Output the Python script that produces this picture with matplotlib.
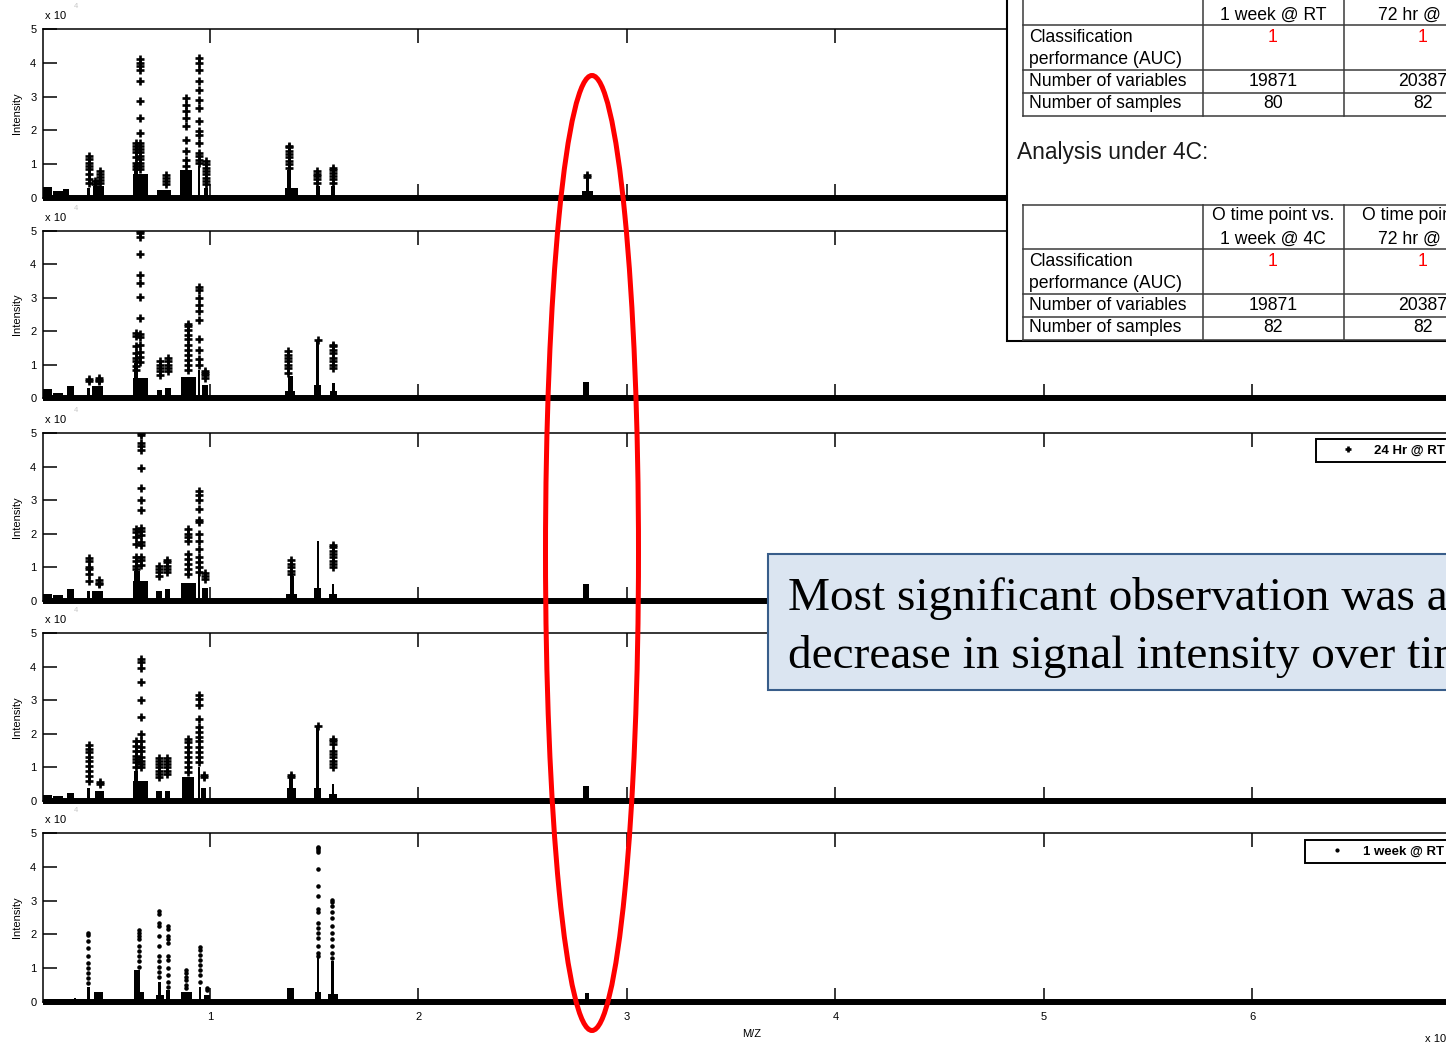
import matplotlib
matplotlib.use('Agg')
import matplotlib.pyplot as plt
from matplotlib.patches import Rectangle, Ellipse

plt.rcParams['font.family'] = ['Liberation Sans', 'DejaVu Sans']

# ---------------- data (m/z in units of 10^4, intensity in units of 10^4) ----------------
XMIN, XMAX = 0.2, 7.0
x_ticks = [1, 2, 3, 4, 5, 6]
y_ticks = [0, 1, 2, 3, 4, 5]
baseline_mz = [XMIN, XMAX]
baseline_int = [0, 0]

# panel 1
p1_body_mz = [0.22, 0.27, 0.31, 0.417, 0.465, 0.665, 0.645, 0.78, 0.885, 0.947, 0.98, 1.02, 1.29, 1.39, 1.38, 1.517, 1.588, 2.81, 2.81]
p1_body_w = [0.04, 0.05, 0.03, 0.015, 0.05, 0.07, 0.02, 0.07, 0.06, 0.008, 0.02, 0.04, 0.005, 0.06, 0.02, 0.02, 0.02, 0.05, 0.014]
p1_body_h = [0.32, 0.2, 0.28, 0.3, 0.35, 0.72, 1.0, 0.25, 0.84, 0.95, 0.3, 0.1, 0.06, 0.3, 0.84, 0.35, 0.35, 0.2, 0.55]
p1_col_mz = [0.417, 0.45, 0.47, 0.645, 0.664, 0.79, 0.885, 0.947, 0.982, 1.378, 1.515, 1.588, 2.81]
p1_col_int = [
    [1.23, 1.15, 1.05, 0.95, 0.85, 0.7, 0.55, 0.45],
    [0.5, 0.42],
    [0.8, 0.72, 0.62, 0.52, 0.45],
    [1.62, 1.55, 1.45, 1.35, 1.2, 1.05, 0.95, 0.85],
    [4.1, 4.0, 3.9, 3.8, 3.45, 2.88, 2.37, 1.92, 1.62, 1.55, 1.45, 1.35, 1.25, 1.15, 1.05, 0.95, 0.85],
    [0.69, 0.6, 0.5, 0.4],
    [2.96, 2.76, 2.56, 2.37, 2.12, 1.73, 1.38, 1.13, 0.94],
    [4.14, 4.0, 3.8, 3.45, 3.2, 2.9, 2.66, 2.27, 1.97, 1.87, 1.63, 1.33, 1.23, 1.13, 1.03],
    [1.08, 1.0, 0.9, 0.8, 0.7, 0.6, 0.5, 0.4],
    [1.55, 1.5, 1.4, 1.3, 1.2, 1.1, 1.0, 0.9],
    [0.79, 0.72, 0.65, 0.55, 0.45],
    [0.89, 0.82, 0.75, 0.65, 0.55, 0.45],
    [0.69, 0.62],
]

# panel 2
p2_body_mz = [0.22, 0.27, 0.33, 0.417, 0.46, 0.665, 0.643, 0.758, 0.798, 0.898, 0.947, 0.975, 1.385, 1.385, 1.516, 1.516, 1.593, 1.593, 2.804]
p2_body_w = [0.04, 0.05, 0.03, 0.012, 0.05, 0.07, 0.02, 0.025, 0.025, 0.07, 0.008, 0.03, 0.05, 0.025, 0.03, 0.012, 0.035, 0.014, 0.028]
p2_body_h = [0.28, 0.15, 0.35, 0.3, 0.35, 0.6, 1.05, 0.25, 0.3, 0.62, 0.85, 0.4, 0.2, 0.65, 0.4, 1.7, 0.2, 0.45, 0.48]
p2_col_mz = [0.417, 0.467, 0.643, 0.665, 0.758, 0.798, 0.893, 0.947, 0.975, 1.372, 1.516, 1.588]
p2_col_int = [
    [0.58, 0.5],
    [0.6, 0.55, 0.5],
    [1.95, 1.85, 1.55, 1.35, 1.2, 1.1, 0.95, 0.85],
    [5.0, 4.93, 4.83, 4.3, 3.68, 3.43, 3.03, 2.4, 1.93, 1.83, 1.58, 1.38, 1.23, 1.08],
    [1.1, 1.0, 0.9, 0.8, 0.7],
    [1.2, 1.1, 1.0, 0.9, 0.8],
    [2.23, 2.15, 2.05, 1.9, 1.78, 1.6, 1.45, 1.3, 1.15, 1.0, 0.85],
    [3.33, 3.23, 2.98, 2.78, 2.6, 2.33, 1.78, 1.43, 1.18, 0.98],
    [0.8, 0.75, 0.7, 0.6],
    [1.4, 1.3, 1.2, 1.1, 1.0, 0.9, 0.75],
    [1.75],
    [1.6, 1.55, 1.45, 1.35, 1.2, 1.1, 1.0, 0.9],
]

# panel 3
p3_body_mz = [0.22, 0.27, 0.33, 0.417, 0.46, 0.665, 0.65, 0.755, 0.795, 0.898, 0.947, 0.975, 1.29, 1.39, 1.392, 1.516, 1.516, 1.59, 1.59, 2.804]
p3_body_w = [0.04, 0.05, 0.03, 0.012, 0.05, 0.07, 0.03, 0.025, 0.025, 0.07, 0.008, 0.03, 0.01, 0.05, 0.02, 0.03, 0.01, 0.035, 0.014, 0.028]
p3_body_h = [0.22, 0.18, 0.35, 0.3, 0.3, 0.6, 0.9, 0.3, 0.35, 0.55, 0.85, 0.4, 0.1, 0.2, 0.75, 0.4, 1.8, 0.2, 0.5, 0.5]
p3_col_mz = [0.417, 0.465, 0.644, 0.667, 0.755, 0.795, 0.893, 0.947, 0.975, 1.388, 1.59]
p3_col_int = [
    [1.28, 1.2, 1.0, 0.95, 0.8, 0.6],
    [0.63, 0.55, 0.5],
    [2.15, 2.05, 1.9, 1.7, 1.3, 1.2, 1.05, 0.95],
    [5.0, 4.93, 4.7, 4.6, 4.5, 3.96, 3.36, 3.0, 2.72, 2.17, 2.07, 1.97, 1.77, 1.67, 1.32, 1.22, 1.07],
    [1.05, 0.95, 0.85, 0.75],
    [1.22, 1.15, 1.05, 0.95, 0.85],
    [2.13, 2.0, 1.9, 1.8, 1.4, 1.25, 1.1, 0.95, 0.8],
    [3.28, 3.15, 3.0, 2.75, 2.4, 2.35, 2.0, 1.8, 1.55, 1.3, 1.15, 1.0, 0.85],
    [0.83, 0.75, 0.65],
    [1.22, 1.1, 1.0, 0.9, 0.8],
    [1.67, 1.6, 1.5, 1.4, 1.3, 1.2, 1.1, 1.0],
]

# panel 4
p4_body_mz = [0.22, 0.27, 0.33, 0.417, 0.47, 0.665, 0.643, 0.755, 0.795, 0.895, 0.947, 0.97, 1.08, 1.28, 1.39, 1.39, 1.516, 1.516, 1.59, 1.59, 1.67, 2.804]
p4_body_w = [0.04, 0.05, 0.03, 0.012, 0.04, 0.07, 0.02, 0.025, 0.025, 0.06, 0.008, 0.025, 0.005, 0.005, 0.045, 0.02, 0.03, 0.012, 0.035, 0.014, 0.005, 0.028]
p4_body_h = [0.18, 0.15, 0.25, 0.4, 0.3, 0.6, 0.9, 0.3, 0.3, 0.7, 1.0, 0.4, 0.05, 0.05, 0.4, 0.72, 0.4, 2.2, 0.2, 0.5, 0.05, 0.45]
p4_col_mz = [0.417, 0.47, 0.643, 0.667, 0.755, 0.795, 0.893, 0.947, 0.97, 1.39, 1.516, 1.59]
p4_col_int = [
    [1.66, 1.55, 1.45, 1.3, 1.2, 1.05, 0.9, 0.75, 0.6],
    [0.57, 0.5],
    [1.78, 1.65, 1.5, 1.35, 1.25, 1.15, 1.0],
    [4.24, 4.15, 3.95, 3.55, 3.0, 2.5, 2.0, 1.78, 1.6, 1.5, 1.3, 1.2, 1.1, 1.0],
    [1.27, 1.2, 1.1, 1.0, 0.9, 0.8, 0.7],
    [1.29, 1.2, 1.1, 1.0, 0.9, 0.8],
    [1.86, 1.75, 1.6, 1.45, 1.3, 1.15, 1.0, 0.85],
    [3.15, 3.05, 2.85, 2.45, 2.2, 2.05, 1.9, 1.8, 1.6, 1.45, 1.3, 1.15],
    [0.77, 0.7],
    [0.77, 0.7],
    [2.23],
    [1.86, 1.8, 1.7, 1.5, 1.4, 1.3, 1.2, 1.1, 1.0],
]

# panel 5
p5_body_mz = [0.3, 0.35, 0.416, 0.465, 0.66, 0.648, 0.76, 0.757, 0.8, 0.887, 0.952, 0.985, 1.03, 1.29, 1.387, 1.455, 1.518, 1.517, 1.59, 1.587, 2.81, 3.025, 3.107]
p5_body_w = [0.2, 0.01, 0.012, 0.04, 0.05, 0.03, 0.035, 0.014, 0.02, 0.05, 0.01, 0.03, 0.005, 0.005, 0.035, 0.005, 0.03, 0.012, 0.05, 0.014, 0.02, 0.004, 0.004]
p5_body_h = [0.08, 0.12, 0.45, 0.3, 0.3, 0.95, 0.2, 0.6, 0.35, 0.3, 0.45, 0.2, 0.05, 0.05, 0.4, 0.05, 0.3, 1.3, 0.25, 1.2, 0.26, 0.08, 0.08]
p5_col_mz = [0.416, 0.657, 0.757, 0.8, 0.887, 0.952, 0.985, 1.517, 1.587]
p5_col_int = [
    [2.04, 1.98, 1.8, 1.6, 1.35, 1.15, 1.0, 0.85, 0.7, 0.55],
    [2.12, 2.05, 1.95, 1.85, 1.65, 1.5, 1.35, 1.2, 1.05],
    [2.7, 2.6, 2.35, 2.25, 1.95, 1.65, 1.35, 1.2, 1.05, 0.9, 0.75],
    [2.24, 2.15, 1.95, 1.85, 1.75, 1.35, 1.25, 1.0, 0.8, 0.6, 0.45],
    [0.95, 0.85, 0.75, 0.65, 0.5, 0.4],
    [1.64, 1.55, 1.4, 1.25, 1.1, 0.95, 0.8, 0.6],
    [0.4, 0.35],
    [4.6, 4.55, 4.5, 4.45, 3.93, 3.43, 3.13, 2.75, 2.65, 2.35, 2.2, 2.05, 1.9, 1.65, 1.45, 1.35],
    [3.03, 2.95, 2.85, 2.65, 2.5, 2.25, 2.05, 1.85, 1.65, 1.45, 1.3],
]

panel_labels = [None, None, '24 Hr @ RT', None, '1 week @ RT']
panel_markers = ['+', '+', '+', '+', '.']

# tables
row_labels = ['Classification\nperformance (AUC)', 'Number of variables', 'Number of samples']
rt_headers = ['O time point vs.\n1 week @ RT', 'O time point vs.\n72 hr @ RT']
c4_headers = ['O time point vs.\n1 week @ 4C', 'O time point vs.\n72 hr @ 4C']
rt_auc = ['1', '1']
rt_vars = ['19871', '20387']
rt_samples = ['80', '82']
c4_auc = ['1', '1']
c4_vars = ['19871', '20387']
c4_samples = ['82', '82']

# ---------------- figure ----------------
W, H = 1446, 1046
fig = plt.figure(figsize=(W / 100, H / 100), dpi=100)
ax_left, ax_right = 43.3, 1460.6
panel_top = [29, 231, 433, 633, 833]
panel_bot = [198, 398, 601, 801, 1002]

bodies = [(p1_body_mz, p1_body_w, p1_body_h), (p2_body_mz, p2_body_w, p2_body_h),
          (p3_body_mz, p3_body_w, p3_body_h), (p4_body_mz, p4_body_w, p4_body_h),
          (p5_body_mz, p5_body_w, p5_body_h)]
cols = [(p1_col_mz, p1_col_int), (p2_col_mz, p2_col_int), (p3_col_mz, p3_col_int),
        (p4_col_mz, p4_col_int), (p5_col_mz, p5_col_int)]
legend_pos = [None, None, ((1316 - ax_left) / (ax_right - ax_left), 1 - 6 / 168), None,
              ((1305 - ax_left) / (ax_right - ax_left), 1 - 7 / 169)]

for i in range(5):
    t, b = panel_top[i], panel_bot[i]
    ax = fig.add_axes([ax_left / W, 1 - b / H, (ax_right - ax_left) / W, (b - t) / H])
    bm, bw, bh = bodies[i]
    ax.bar(bm, bh, width=bw, color='black', linewidth=0, zorder=2)
    cm, ci = cols[i]
    xs, ys = [], []
    for m, vals in zip(cm, ci):
        xs += [m] * len(vals)
        ys += vals
    mk = panel_markers[i]
    if mk == '+':
        ax.plot(xs, ys, ls='none', marker='+', ms=5.2, mew=1.9, color='black',
                label=panel_labels[i], zorder=3)
    else:
        ax.plot(xs, ys, ls='none', marker='.', ms=4.5, color='black',
                label=panel_labels[i], zorder=3)
    ax.plot(baseline_mz, baseline_int, color='black', lw=4.3, clip_on=False, zorder=4,
            solid_capstyle='butt')
    ax.set_xlim(XMIN, XMAX)
    ax.set_ylim(0, 5)
    ax.set_xticks(x_ticks)
    ax.set_yticks(y_ticks)
    ax.tick_params(direction='in', length=10, width=1.1, top=True, right=True,
                   labelsize=8, pad=5)
    if i < 4:
        ax.tick_params(labelbottom=False)
    else:
        ax.tick_params(axis='x', pad=7)
        ax.set_xlabel('M/Z', fontsize=8, labelpad=5)
        ax.annotate('x 10', xy=(0.975, 0), xycoords='axes fraction', xytext=(0, -27),
                    textcoords='offset points', fontsize=8, ha='left', va='center')
    for s in ax.spines.values():
        s.set_linewidth(1.1)
    ax.set_ylabel('Intensity', fontsize=8, labelpad=6)
    ax.annotate('x 10', xy=(0, 1), xycoords='axes fraction', xytext=(1.5, 9.5),
                textcoords='offset points', fontsize=8, ha='left', va='center')
    ax.annotate('4', xy=(0, 1), xycoords='axes fraction', xytext=(22, 16),
                textcoords='offset points', fontsize=5.5, ha='left', va='center',
                color='#c8c8c8')
    if legend_pos[i] is not None:
        leg = ax.legend(loc='upper left', bbox_to_anchor=legend_pos[i],
                        prop={'size': 9.5, 'weight': 'bold'},
                        frameon=True, fancybox=False, edgecolor='black', framealpha=1,
                        borderaxespad=0, handlelength=4.0, handletextpad=0.0,
                        borderpad=0.4, numpoints=1, markerscale=0.9)
        leg.get_frame().set_linewidth(1.4)

# ---------------- overlay (slide annotations) ----------------
ov = fig.add_axes([0, 0, 1, 1], zorder=20)
ov.set_xlim(0, W)
ov.set_ylim(H, 0)
ov.axis('off')
ov.patch.set_alpha(0)

ov.add_patch(Rectangle((1007, -10), 600, 350.5, facecolor='white', edgecolor='black',
                       lw=1.5, clip_on=False))

tfs = 12.7
line_c = '#3a3a3a'
xl, xc1, xc2, xr = 1022.7, 1202.7, 1344.3, 1600
cen1, cen2 = 1273, 1423


def draw_table(top, headers, auc, nvars, nsamp):
    rows = [top, top + 44, top + 89, top + 112, top + 134.5]
    for y in rows:
        ov.plot([xl, xr], [y, y], color=line_c, lw=1.1, clip_on=False)
    for x in [xl, xc1, xc2]:
        ov.plot([x, x], [top, rows[-1]], color=line_c, lw=1.1, clip_on=False)
    for h, cx in zip(headers, [cen1, cen2]):
        l1, l2 = h.split('\n')
        ov.text(cx, top + 11, l1, fontsize=tfs, ha='center', va='center')
        ov.text(cx, top + 34, l2, fontsize=tfs, ha='center', va='center')
    r1, r2 = row_labels[0].split('\n')
    ov.text(1029, top + 56, r1, fontsize=tfs, ha='left', va='center')
    ov.text(1029, top + 78.5, r2, fontsize=tfs, ha='left', va='center')
    ov.text(1029, top + 101, row_labels[1], fontsize=tfs, ha='left', va='center')
    ov.text(1029, top + 123, row_labels[2], fontsize=tfs, ha='left', va='center')
    for k, cx in enumerate([cen1, cen2]):
        ov.text(cx, top + 56, auc[k], fontsize=tfs, ha='center', va='center', color='#ff0000')
        ov.text(cx, top + 101, nvars[k], fontsize=tfs, ha='center', va='center')
        ov.text(cx, top + 123, nsamp[k], fontsize=tfs, ha='center', va='center')


draw_table(-19, rt_headers, rt_auc, rt_vars, rt_samples)
ov.text(1017, 153, 'Analysis under 4C:', fontsize=16.4, ha='left', va='center', color='#1a1a1a')
draw_table(205, c4_headers, c4_auc, c4_vars, c4_samples)

ov.add_patch(Rectangle((767.5, 553.5), 800, 136, facecolor='#dbe5f1', edgecolor='#385d8a',
                       lw=1.5, clip_on=False))
ov.text(788, 599, 'Most significant observation was a', fontsize=34, ha='left', va='center',
        family=['Liberation Serif', 'DejaVu Serif'])
ov.text(788, 657, 'decrease in signal intensity over time.', fontsize=34, ha='left',
        va='center', family=['Liberation Serif', 'DejaVu Serif'])

ov.add_patch(Ellipse((592, 553), 93, 955, facecolor='none', edgecolor='#ff0000', lw=3.6))

fig.savefig('out.png', dpi=100)
